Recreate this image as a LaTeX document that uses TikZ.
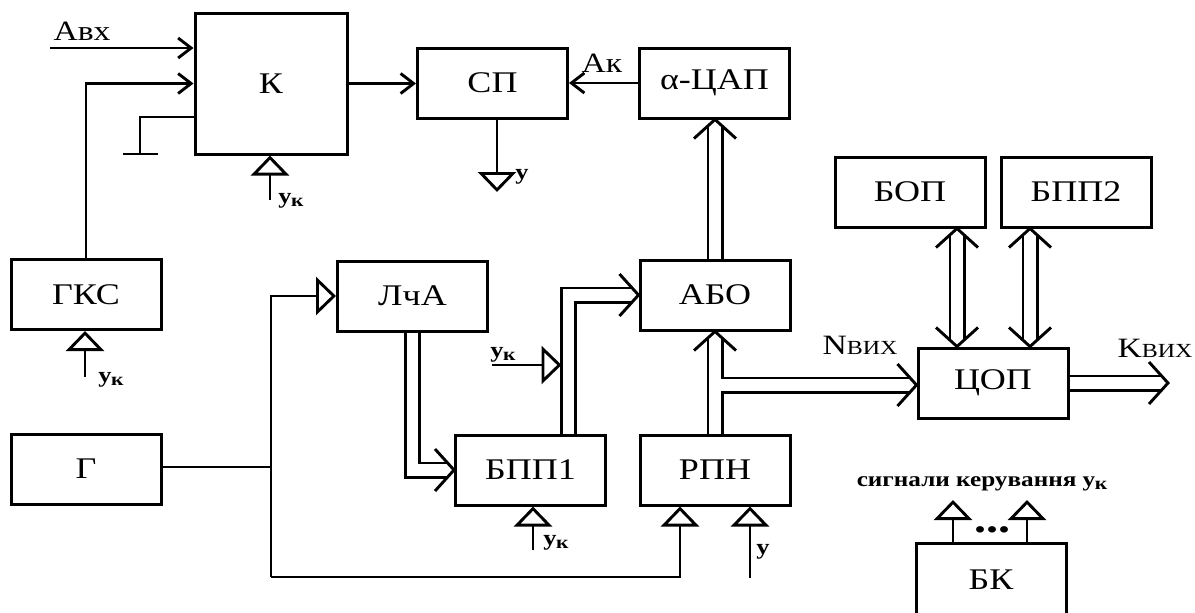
\documentclass[tikz,border=0pt]{standalone}
\usepackage{fontspec}
\setmainfont{Liberation Serif}[FakeStretch=1.2]
\usetikzlibrary{arrows.meta}
\newcommand\yk{у\kern-0.3pt\lower1.6pt\hbox{\fontsize{9}{10}\selectfont к}}
\begin{document}
\begin{tikzpicture}[x=0.5pt,y=-0.5pt,
  box/.style={draw,line width=1.5pt,minimum width=75pt,minimum height=35pt,inner sep=0pt,font=\fontsize{15}{18}\selectfont},
  wire/.style={line width=1.45pt},
  sig/.style={wire,-{Straight Barb[length=6.5pt,width=10pt]}},
  ctl/.style={wire,-{Triangle[open,length=10pt,width=19pt]}},
  busline/.style={line width=1.45pt,double,double distance=5.6pt},
  bus/.style={busline,shorten >=3.2pt},
  bus2/.style={busline,shorten >=3.2pt,shorten <=3.2pt},
  bushead/.pic={\draw[line width=1.45pt,line join=miter,line cap=butt] (-9.5pt,10.5pt) -- (0pt,0pt) -- (-9.5pt,-10.5pt);},
  lbl/.style={font=\fontsize{14}{16}\selectfont,inner sep=0pt},
  uk/.style={font=\bfseries\fontsize{11}{12}\selectfont,inner sep=0pt}]
\useasboundingbox (0,0) rectangle (1195,612);
\clip (0,0) rectangle (1195,612);
% boxes
\node[box,minimum width=76pt,minimum height=70.5pt] (K) at (271,83.5) {К};
\node[box] (SP) at (492.5,83) {СП};
\node[box] (DAC) at (714.5,83) {α-ЦАП};
\node[box] (GKS) at (86,294.5) {ГКС};
\node[box] (G) at (86,469) {Г};
\node[box] (LchA) at (412.5,296) {ЛчА};
\node[box] (ABO) at (715,295) {АБО};
\node[box] (BPP1) at (530.5,470) {БПП1};
\node[box] (RPN) at (715,470) {РПН};
\node[box] (BOP) at (910,192) {БОП};
\node[box] (BPP2) at (1076,192) {БПП2};
\node[box] (COP) at (993,383) {ЦОП};
\node[box,minimum height=37pt] (BK) at (991,580) {БК};
% K inputs
\coordinate (avx) at (50,48);
\draw[sig] (avx) -- (avx -| K.west);
\node[lbl] (Avxl) at (82,31) {Авх};
\draw[sig] (GKS.north) |- (K.west);
\coordinate (gy) at (0,117);
\coordinate (gnd) at (140,154);
\draw[wire] (K.west |- gy) -| (gnd);
\draw[wire] ([xshift=-8.5pt]gnd) -- ([xshift=9pt]gnd);
\coordinate (ukK) at (270,200);
\draw[ctl] (ukK) -- (ukK |- K.south);
\node[uk] at (291,201) {\yk};
\coordinate (ukG) at (85,377);
\draw[ctl] (ukG) -- (ukG |- GKS.south);
\node[uk] at (111,380) {\yk};
% K -> SP, DAC -> SP
\draw[sig] (K.east) -- (K.east -| SP.west);
\draw[sig] (DAC.west) -- (SP.east);
\node[lbl] at (602,63) {Ак};
\coordinate (spy) at (497,192);
\draw[ctl] (spy |- SP.south) -- (spy);
\node[uk] at (522,177) {у};
\draw[bus] (ABO.north) -- (ABO.north |- DAC.south);
\pic[rotate=90] at (ABO.north |- DAC.south) {bushead};
% generator lines
\coordinate (gj) at (271,467);
\draw[wire] (G.east |- gj) -- (gj);
\coordinate (bl) at (271,577);
\draw[ctl] (bl) |- (LchA.west);
\coordinate (rin) at (680,577);
\draw[ctl] (bl) -- (rin) -- (rin |- RPN.south);
\coordinate (yin) at (750,578);
\draw[ctl] (yin) -- (yin |- RPN.south);
\node[uk] at (763,552) {у};
% buses middle
\draw[bus] (LchA.south) |- (BPP1.west);
\pic at (BPP1.west) {bushead};
\coordinate (bx) at (568.5,293.5);
\draw[bus] (BPP1.north -| bx) |- (ABO.west);
\pic at (ABO.west) {bushead};
\coordinate (ukm) at (492,365);
\coordinate (ukmt) at (561.5,365);
\draw[ctl] (ukm) -- (ukmt);
\node[uk] at (503,355) {\yk};
\coordinate (ukb) at (533,550);
\draw[ctl] (ukb) -- (ukb |- BPP1.south);
\node[uk] at (556,543) {\yk};
\draw[bus] (RPN.north) -- (ABO.south);
\pic[rotate=90] at (ABO.south) {bushead};
\coordinate (tj) at (720.6,385);
\draw[bus,line cap=butt] (tj) -- (tj -| COP.west);
\pic at (tj -| COP.west) {bushead};
\node[lbl] at (860,345) {N{\fontsize{10}{12}\selectfont ВИХ}};
% right
\coordinate (b1) at (957,0);
\coordinate (b2) at (1030,0);
\draw[bus2] (BOP.south -| b1) -- (COP.north -| b1);
\pic[rotate=90] at (BOP.south -| b1) {bushead};
\pic[rotate=-90] at (COP.north -| b1) {bushead};
\draw[bus2] (BPP2.south -| b2) -- (COP.north -| b2);
\pic[rotate=90] at (BPP2.south -| b2) {bushead};
\pic[rotate=-90] at (COP.north -| b2) {bushead};
\coordinate (kout) at (1168,383);
\draw[bus] (COP.east) -- (kout);
\pic at (kout) {bushead};
\node[lbl] at (1155,348) {K{\fontsize{10}{12}\selectfont ВИХ}};
\coordinate (ba1) at (953,500);
\coordinate (ba2) at (1027,500);
\draw[ctl] (ba1 |- BK.north) -- (ba1);
\draw[ctl] (ba2 |- BK.north) -- (ba2);
\node[font=\bfseries\fontsize{20}{22}\selectfont,inner sep=0pt] at (992,530) {...};
\node[uk,font=\bfseries\fontsize{10.5}{12}\selectfont] at (982,484) {сигнали керування \yk};
\end{tikzpicture}
\end{document}
